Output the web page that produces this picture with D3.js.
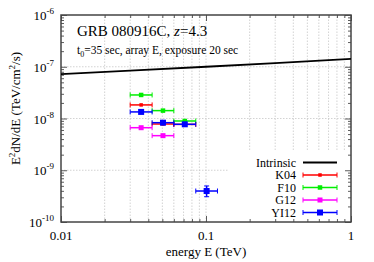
<!DOCTYPE html>
<html>
<head>
<meta charset="utf-8">
<script src="https://cdn.jsdelivr.net/npm/d3@7"></script>
<style>
body { margin: 0; background: #fff; }
text { font-family: "Liberation Serif", "DejaVu Serif", serif; }
</style>
</head>
<body>
<div id="chart"></div>
<script>
// intrinsic spectrum (energy TeV, E^2 dN/dE)
const intrinsicE = [0.01, 0.03, 0.1, 0.3, 1];
const intrinsicF = [7.2e-8, 8.4e-8, 1.0e-7, 1.18e-7, 1.42e-7];

// energy bins
const binCenter = [0.0357, 0.0505, 0.0714, 0.101];
const binLow = [0.030, 0.0425, 0.060, 0.085];
const binHigh = [0.0425, 0.060, 0.085, 0.120];

// measured points per model
const k04Values = [1.83e-8, 7.83e-9, 7.7e-9];
const f10Values = [2.85e-8, 1.42e-8, 8.95e-9];
const g12Values = [6.64e-9, 4.66e-9];
const yi12Values = [1.34e-8, 8.3e-9, 7.73e-9, 3.97e-10];
const yi12Low = [null, null, null, 3.08e-10];
const yi12High = [null, null, null, 4.97e-10];

const seriesNames = ['K04', 'F10', 'G12', 'YI12'];
const seriesColors = ['#ff0000', '#00ee00', '#ff00ff', '#0000ff'];
const markerSizes = [3.5, 4.5, 5, 6];

const xTicks = [0.01, 0.1, 1];
const xTickLabels = ['0.01', '0.1', '1'];
const yExps = [-10, -9, -8, -7, -6];

const width = 374;
const height = 262;
const margin = { top: 15, right: 23, bottom: 40, left: 61 };

const svg = d3.select('#chart')
    .append('svg')
    .attr('width', width)
    .attr('height', height);

const xScale = d3.scaleLog()
    .domain([0.01, 1])
    .range([margin.left, width - margin.right]);

const yScale = d3.scaleLog()
    .domain([1e-10, 1e-6])
    .range([height - margin.bottom, margin.top]);

const x0 = margin.left, x1 = width - margin.right;
const y0 = height - margin.bottom, y1 = margin.top;

// minor x ticks
const xMinor = [];
[0.01, 0.1].forEach(d => { for (let k = 2; k <= 9; k++) xMinor.push(d * k); });
const yMinor = [];
yExps.slice(0, -1).forEach(e => { for (let k = 2; k <= 9; k++) yMinor.push(k * Math.pow(10, e)); });

// grid
const grid = svg.append('g')
    .attr('stroke', '#c8c8c8')
    .attr('stroke-width', 0.8)
    .attr('stroke-dasharray', '1.5,1.5');

grid.selectAll('.vx')
    .data(xMinor.concat([0.1]))
    .enter()
    .append('line')
    .attr('x1', d => xScale(d))
    .attr('x2', d => xScale(d))
    .attr('y1', y0)
    .attr('y2', y1);

grid.selectAll('.hy')
    .data([1e-9, 1e-8, 1e-7])
    .enter()
    .append('line')
    .attr('x1', x0)
    .attr('x2', x1)
    .attr('y1', d => yScale(d))
    .attr('y2', d => yScale(d));

// legend background hides grid
svg.append('rect')
    .attr('x', 229)
    .attr('y', 151)
    .attr('width', x1 - 229)
    .attr('height', y0 - 151)
    .attr('fill', '#fff');

// axes with inward ticks on all sides
function addAxis(axis, transform) {
    const g = svg.append('g')
        .attr('transform', transform)
        .call(axis);
    g.selectAll('text').remove();
    g.select('.domain').remove();
    g.selectAll('line').attr('stroke', '#333').attr('stroke-width', 0.8);
    return g;
}

addAxis(d3.axisBottom(xScale).tickValues(xTicks).tickSize(-6), `translate(0,${y0})`);
addAxis(d3.axisBottom(xScale).tickValues(xMinor).tickSize(-3), `translate(0,${y0})`);
addAxis(d3.axisTop(xScale).tickValues(xTicks).tickSize(-6), `translate(0,${y1})`);
addAxis(d3.axisTop(xScale).tickValues(xMinor).tickSize(-3), `translate(0,${y1})`);
addAxis(d3.axisLeft(yScale).tickValues(yExps.map(e => Math.pow(10, e))).tickSize(-6), `translate(${x0},0)`);
addAxis(d3.axisLeft(yScale).tickValues(yMinor).tickSize(-3), `translate(${x0},0)`);
addAxis(d3.axisRight(yScale).tickValues(yExps.map(e => Math.pow(10, e))).tickSize(-6), `translate(${x1},0)`);
addAxis(d3.axisRight(yScale).tickValues(yMinor).tickSize(-3), `translate(${x1},0)`);

// frame
svg.append('rect')
    .attr('x', x0)
    .attr('y', y1)
    .attr('width', x1 - x0)
    .attr('height', y0 - y1)
    .attr('fill', 'none')
    .attr('stroke', '#444')
    .attr('stroke-width', 1.5);

// x tick labels
svg.selectAll('.xl')
    .data(xTicks)
    .enter()
    .append('text')
    .attr('x', d => xScale(d))
    .attr('y', y0 + 18)
    .attr('text-anchor', 'middle')
    .attr('font-size', 13)
    .text((d, i) => xTickLabels[i]);

// y tick labels 10^n
const yl = svg.selectAll('.yl')
    .data(yExps)
    .enter()
    .append('text')
    .attr('x', x0 - 7)
    .attr('y', d => yScale(Math.pow(10, d)) + 5)
    .attr('text-anchor', 'end')
    .attr('font-size', 13);
yl.append('tspan').text('10');
yl.append('tspan')
    .attr('dy', -6)
    .attr('font-size', 9)
    .text(d => d + '');

// axis titles
svg.append('text')
    .attr('x', (x0 + x1) / 2)
    .attr('y', height - 6)
    .attr('text-anchor', 'middle')
    .attr('font-size', 13)
    .text('energy E (TeV)');

const yTitle = svg.append('text')
    .attr('transform', `translate(20, ${(y0 + y1) / 2 - 10}) rotate(-90)`)
    .attr('text-anchor', 'middle')
    .attr('font-size', 13);
yTitle.append('tspan').text('E');
yTitle.append('tspan').attr('dy', -5).attr('font-size', 9).text('2');
yTitle.append('tspan').attr('dy', 5).text('dN/dE (TeV/cm');
yTitle.append('tspan').attr('dy', -5).attr('font-size', 9).text('2');
yTitle.append('tspan').attr('dy', 5).text('/s)');

// annotation
const title = svg.append('text')
    .attr('x', 77)
    .attr('y', 36)
    .attr('font-size', 15);
title.append('tspan').text('GRB 080916C, ');
title.append('tspan').attr('font-style', 'italic').text('z');
title.append('tspan').text('=4.3');

const sub = svg.append('text')
    .attr('x', 77)
    .attr('y', 54)
    .attr('font-size', 11.5);
sub.append('tspan').text('t');
sub.append('tspan').attr('dy', 3).attr('font-size', 8).text('0');
sub.append('tspan').attr('dy', -3).text('=35 sec, array E, exposure 20 sec');

// intrinsic line
const line = d3.line()
    .x(d => xScale(d[0]))
    .y(d => yScale(d[1]));

svg.append('path')
    .datum(intrinsicE.map((e, i) => [e, intrinsicF[i]]))
    .attr('d', line)
    .attr('fill', 'none')
    .attr('stroke', '#000')
    .attr('stroke-width', 1.8);

// data points with error bars
const allValues = [k04Values, f10Values, g12Values, yi12Values];

allValues.forEach((vals, s) => {
    const color = seriesColors[s];
    const ms = markerSizes[s];
    const g = svg.append('g');
    vals.forEach((v, i) => {
        const cy = yScale(v);
        const xl = xScale(binLow[i]), xh = xScale(binHigh[i]);
        g.append('line')
            .attr('x1', xl).attr('x2', xh)
            .attr('y1', cy).attr('y2', cy)
            .attr('stroke', color).attr('stroke-width', 1.5);
        [xl, xh].forEach(xc => {
            g.append('line')
                .attr('x1', xc).attr('x2', xc)
                .attr('y1', cy - 2.5).attr('y2', cy + 2.5)
                .attr('stroke', color).attr('stroke-width', 1);
        });
        if (s === 3 && yi12Low[i] !== null) {
            const cx = xScale(binCenter[i]);
            const ya = yScale(yi12Low[i]), yb = yScale(yi12High[i]);
            g.append('line')
                .attr('x1', cx).attr('x2', cx)
                .attr('y1', ya).attr('y2', yb)
                .attr('stroke', color).attr('stroke-width', 1.5);
            [ya, yb].forEach(yc => {
                g.append('line')
                    .attr('x1', cx - 2.5).attr('x2', cx + 2.5)
                    .attr('y1', yc).attr('y2', yc)
                    .attr('stroke', color).attr('stroke-width', 1);
            });
        }
        g.append('rect')
            .attr('x', xScale(binCenter[i]) - ms / 2)
            .attr('y', cy - ms / 2)
            .attr('width', ms)
            .attr('height', ms)
            .attr('fill', color);
    });
});

// legend
const legendX = 296;
const legendY = [162.5, 175, 187.5, 200, 212.5];
const legendNames = ['Intrinsic'].concat(seriesNames);

legendNames.forEach((name, i) => {
    const y = legendY[i];
    svg.append('text')
        .attr('x', legendX)
        .attr('y', y + 4)
        .attr('text-anchor', 'end')
        .attr('font-size', 12)
        .text(name);
    const color = i === 0 ? '#000' : seriesColors[i - 1];
    svg.append('line')
        .attr('x1', 303).attr('x2', 337)
        .attr('y1', y).attr('y2', y)
        .attr('stroke', color)
        .attr('stroke-width', i === 0 ? 1.8 : 1.5);
    if (i > 0) {
        [303, 337].forEach(xc => {
            svg.append('line')
                .attr('x1', xc).attr('x2', xc)
                .attr('y1', y - 2.5).attr('y2', y + 2.5)
                .attr('stroke', color).attr('stroke-width', 1);
        });
        const ms = markerSizes[i - 1];
        svg.append('rect')
            .attr('x', 320 - ms / 2)
            .attr('y', y - ms / 2)
            .attr('width', ms)
            .attr('height', ms)
            .attr('fill', color);
    }
});
</script>
</body>
</html>
